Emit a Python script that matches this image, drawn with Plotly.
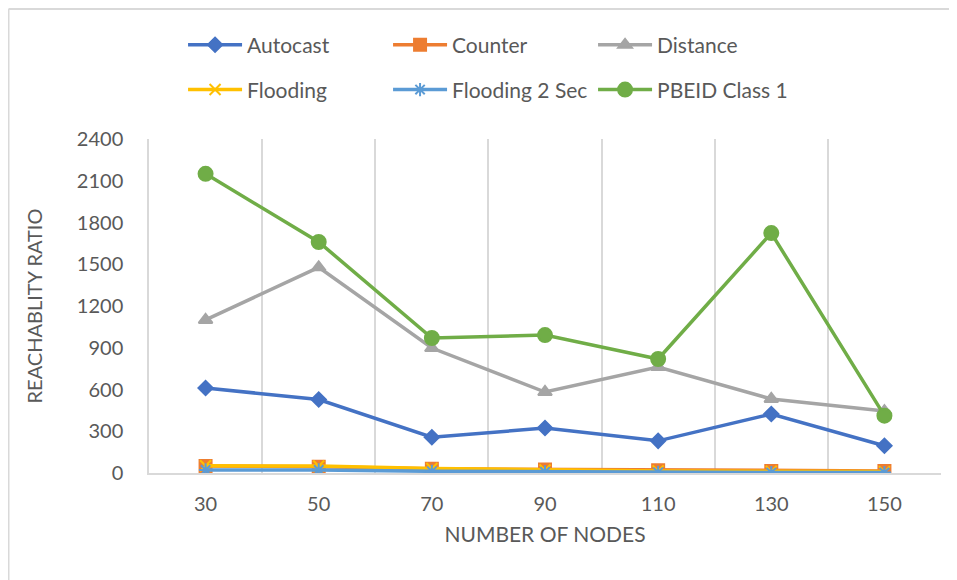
import plotly.graph_objects as go

nodes = [30, 50, 70, 90, 110, 130, 150]
autocast = [611, 528, 257, 323, 231, 424, 196]
counter = [50, 45, 30, 25, 20, 15, 15]
distance = [1100, 1478, 898, 582, 762, 532, 445]
flooding = [52, 50, 32, 22, 15, 12, 10]
flooding2 = [22, 22, 12, 8, 5, 3, 3]
pbeid = [2150, 1660, 970, 991, 819, 1724, 412]
y_ticks = [0, 300, 600, 900, 1200, 1500, 1800, 2100, 2400]

series = [
    ("Autocast", autocast, "#4472C4", "diamond", 11, "legend"),
    ("Counter", counter, "#ED7D31", "square", 12, "legend"),
    ("Distance", distance, "#A5A5A5", "triangle-up", 12, "legend"),
    ("Flooding", flooding, "#FFC000", "x-thin-open", 11, "legend2"),
    ("Flooding 2 Sec", flooding2, "#5B9BD5", "asterisk-open", 11, "legend2"),
    ("PBEID Class 1", pbeid, "#70AD47", "circle", 14, "legend2"),
]

fig = go.Figure()
for name, vals, color, sym, size, lg in series:
    fig.add_trace(go.Scatter(
        x=nodes, y=vals, name=name, mode="lines+markers", legend=lg,
        line=dict(color=color, width=3.5),
        marker=dict(symbol=sym, size=size, color=color,
                    line=dict(color=color, width=2)),
    ))

font_family = "Lato, Open Sans, sans-serif"
legend_common = dict(
    orientation="h", x=0.043, xanchor="left", yanchor="middle",
    entrywidth=136, entrywidthmode="pixels", itemwidth=54,
    font=dict(size=21, color="#595959", family=font_family),
    bgcolor="rgba(0,0,0,0)",
)
fig.update_layout(
    width=957, height=580,
    margin=dict(l=141, r=24, t=131, b=115),
    paper_bgcolor="white", plot_bgcolor="white",
    font=dict(family=font_family, color="#595959", size=18),
    showlegend=True,
    legend=dict(y=1.281, **legend_common),
    legend2=dict(y=1.147, **legend_common),
    xaxis=dict(
        range=[20, 160], tickvals=nodes, ticktext=[str(n) for n in nodes],
        showgrid=False, zeroline=False,
        showline=True, linecolor="#D9D9D9", linewidth=1.5,
        ticks="", ticklabelstandoff=12,
        tickfont=dict(size=20, color="#595959"),
        minor=dict(tickvals=[40, 60, 80, 100, 120, 140, 160], showgrid=True,
                   gridcolor="#D9D9D9", gridwidth=1.5, ticks=""),
        title=dict(text="NUMBER OF NODES", font=dict(size=21, color="#595959"), standoff=14),
    ),
    yaxis=dict(
        range=[0, 2400], tickvals=y_ticks,
        showgrid=False, zeroline=False,
        showline=True, linecolor="#D9D9D9", linewidth=1.5,
        ticks="", ticklabelstandoff=20,
        tickfont=dict(size=20, color="#595959"),
        title=dict(text="REACHABLITY RATIO", font=dict(size=20, color="#595959"), standoff=29),
    ),
    shapes=[
        dict(type="line", xref="paper", yref="paper",
             x0=-0.1774, x1=1.05, y0=1.389, y1=1.389,
             line=dict(color="#D9D9D9", width=2)),
        dict(type="line", xref="paper", yref="paper",
             x0=-0.1774, x1=-0.1774, y0=1.389, y1=-0.35,
             line=dict(color="#D9D9D9", width=2)),
    ],
)

fig.write_html("out.html")
